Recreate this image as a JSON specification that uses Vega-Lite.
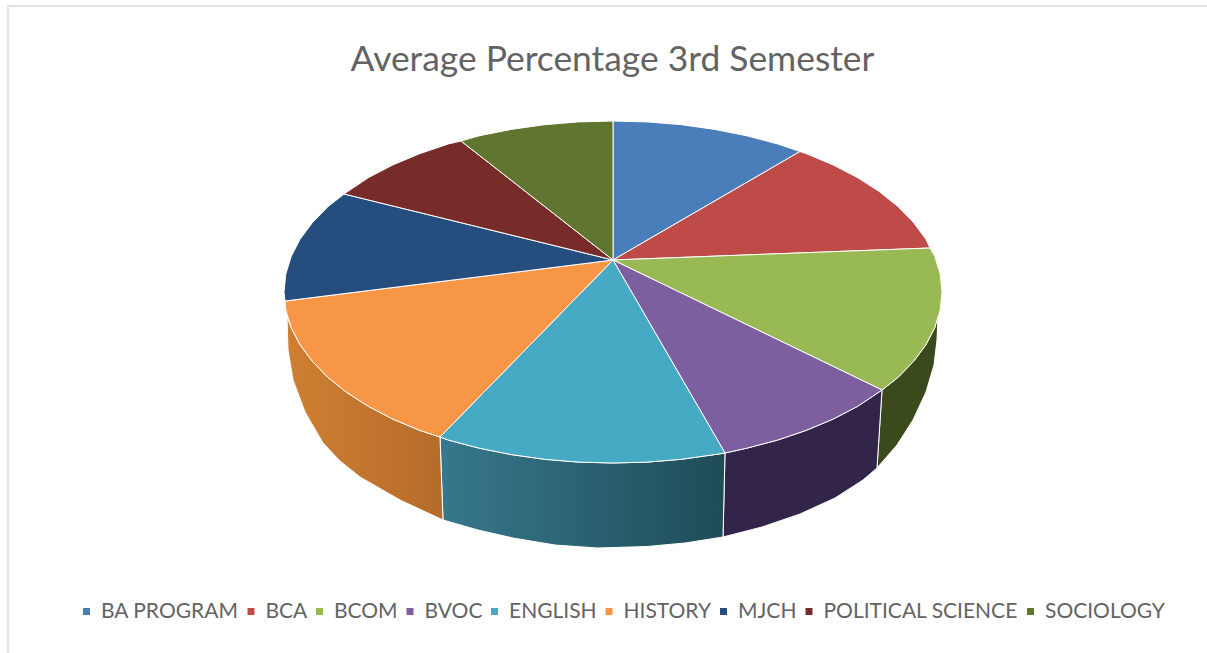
{
"$schema":"https://vega.github.io/schema/vega-lite/v6.json",
"width":1207,"height":653,"padding":0,"autosize":{"type":"none"},
"background":"white",
"view":{"stroke":null},
"title":{"text":"Average Percentage 3rd Semester","anchor":"middle","frame":"group","offset":0,"dy":106,"dx":9,"baseline":"alphabetic","font":"Lato","fontSize":35.4,"fontWeight":"normal","color":"#636363"},
"datasets":{
"frame":[{"x":8,"x2":1220,"y":6,"y2":670}],
"walls":[
{"slice":"BCOM","i":0,"x":938,"y":315},{"slice":"BCOM","i":1,"x":934.8,"y":327.6},{"slice":"BCOM","i":2,"x":925.9,"y":344.8},{"slice":"BCOM","i":3,"x":913.5,"y":361.5},{"slice":"BCOM","i":4,"x":897.9,"y":377.5},{"slice":"BCOM","i":5,"x":882,"y":390},{"slice":"BCOM","i":6,"x":877,"y":468},{"slice":"BCOM","i":7,"x":897,"y":445},{"slice":"BCOM","i":8,"x":913,"y":420},{"slice":"BCOM","i":9,"x":926,"y":392},{"slice":"BCOM","i":10,"x":934,"y":365},{"slice":"BCOM","i":11,"x":937,"y":340},{"slice":"BCOM","i":12,"x":938,"y":315},
{"slice":"BVOC","i":0,"x":882,"y":390},{"slice":"BVOC","i":1,"x":857.5,"y":406.4},{"slice":"BVOC","i":2,"x":833.1,"y":419.1},{"slice":"BVOC","i":3,"x":806.4,"y":430.3},{"slice":"BVOC","i":4,"x":777.5,"y":440.1},{"slice":"BVOC","i":5,"x":746.8,"y":448.2},{"slice":"BVOC","i":6,"x":725,"y":453},{"slice":"BVOC","i":7,"x":723,"y":537},{"slice":"BVOC","i":8,"x":762,"y":527},{"slice":"BVOC","i":9,"x":800,"y":514},{"slice":"BVOC","i":10,"x":835,"y":498},{"slice":"BVOC","i":11,"x":863,"y":480},{"slice":"BVOC","i":12,"x":877,"y":468},{"slice":"BVOC","i":13,"x":882,"y":390},
{"slice":"ENGLISH","i":0,"x":725,"y":453},{"slice":"ENGLISH","i":1,"x":714.7,"y":454.6},{"slice":"ENGLISH","i":2,"x":681.4,"y":459.3},{"slice":"ENGLISH","i":3,"x":647.4,"y":462.1},{"slice":"ENGLISH","i":4,"x":613,"y":463},{"slice":"ENGLISH","i":5,"x":578.6,"y":462.1},{"slice":"ENGLISH","i":6,"x":544.6,"y":459.3},{"slice":"ENGLISH","i":7,"x":511.3,"y":454.6},{"slice":"ENGLISH","i":8,"x":479.2,"y":448.2},{"slice":"ENGLISH","i":9,"x":448.5,"y":440.1},{"slice":"ENGLISH","i":10,"x":440,"y":437},{"slice":"ENGLISH","i":11,"x":443,"y":520},{"slice":"ENGLISH","i":12,"x":478,"y":530},{"slice":"ENGLISH","i":13,"x":513,"y":538},{"slice":"ENGLISH","i":14,"x":555,"y":545},{"slice":"ENGLISH","i":15,"x":597,"y":548},{"slice":"ENGLISH","i":16,"x":647,"y":546.5},{"slice":"ENGLISH","i":17,"x":685,"y":543},{"slice":"ENGLISH","i":18,"x":723,"y":537},{"slice":"ENGLISH","i":19,"x":725,"y":453},
{"slice":"HISTORY","i":0,"x":440,"y":437},{"slice":"HISTORY","i":1,"x":419.6,"y":430.3},{"slice":"HISTORY","i":2,"x":392.9,"y":419.1},{"slice":"HISTORY","i":3,"x":368.5,"y":406.4},{"slice":"HISTORY","i":4,"x":346.8,"y":392.5},{"slice":"HISTORY","i":5,"x":328.1,"y":377.5},{"slice":"HISTORY","i":6,"x":312.5,"y":361.5},{"slice":"HISTORY","i":7,"x":300.1,"y":344.8},{"slice":"HISTORY","i":8,"x":291.2,"y":327.6},{"slice":"HISTORY","i":9,"x":287,"y":317},{"slice":"HISTORY","i":10,"x":288,"y":350},{"slice":"HISTORY","i":11,"x":293,"y":380},{"slice":"HISTORY","i":12,"x":305,"y":412},{"slice":"HISTORY","i":13,"x":323,"y":443},{"slice":"HISTORY","i":14,"x":340,"y":461},{"slice":"HISTORY","i":15,"x":360,"y":477},{"slice":"HISTORY","i":16,"x":400,"y":500},{"slice":"HISTORY","i":17,"x":443,"y":520},{"slice":"HISTORY","i":18,"x":440,"y":437}
],
"top":[
{"slice":"BA PROGRAM","i":0,"x":613,"y":260},{"slice":"BA PROGRAM","i":1,"x":613,"y":121},{"slice":"BA PROGRAM","i":2,"x":647.4,"y":121.9},{"slice":"BA PROGRAM","i":3,"x":681.4,"y":124.7},{"slice":"BA PROGRAM","i":4,"x":714.7,"y":129.4},{"slice":"BA PROGRAM","i":5,"x":746.8,"y":135.8},{"slice":"BA PROGRAM","i":6,"x":777.5,"y":143.9},{"slice":"BA PROGRAM","i":7,"x":800,"y":151.5},{"slice":"BA PROGRAM","i":8,"x":613,"y":260},
{"slice":"BCA","i":0,"x":613,"y":260},{"slice":"BCA","i":1,"x":800,"y":151.5},{"slice":"BCA","i":2,"x":806.4,"y":153.7},{"slice":"BCA","i":3,"x":833.1,"y":164.9},{"slice":"BCA","i":4,"x":857.5,"y":177.6},{"slice":"BCA","i":5,"x":879.2,"y":191.5},{"slice":"BCA","i":6,"x":897.9,"y":206.5},{"slice":"BCA","i":7,"x":913.5,"y":222.5},{"slice":"BCA","i":8,"x":925.9,"y":239.2},{"slice":"BCA","i":9,"x":930,"y":248},{"slice":"BCA","i":10,"x":613,"y":260},
{"slice":"BCOM","i":0,"x":613,"y":260},{"slice":"BCOM","i":1,"x":930,"y":248},{"slice":"BCOM","i":2,"x":934.8,"y":256.4},{"slice":"BCOM","i":3,"x":940.2,"y":274.1},{"slice":"BCOM","i":4,"x":942,"y":292},{"slice":"BCOM","i":5,"x":940.2,"y":309.9},{"slice":"BCOM","i":6,"x":934.8,"y":327.6},{"slice":"BCOM","i":7,"x":925.9,"y":344.8},{"slice":"BCOM","i":8,"x":913.5,"y":361.5},{"slice":"BCOM","i":9,"x":897.9,"y":377.5},{"slice":"BCOM","i":10,"x":882,"y":390},{"slice":"BCOM","i":11,"x":613,"y":260},
{"slice":"BVOC","i":0,"x":613,"y":260},{"slice":"BVOC","i":1,"x":882,"y":390},{"slice":"BVOC","i":2,"x":857.5,"y":406.4},{"slice":"BVOC","i":3,"x":833.1,"y":419.1},{"slice":"BVOC","i":4,"x":806.4,"y":430.3},{"slice":"BVOC","i":5,"x":777.5,"y":440.1},{"slice":"BVOC","i":6,"x":746.8,"y":448.2},{"slice":"BVOC","i":7,"x":725,"y":453},{"slice":"BVOC","i":8,"x":613,"y":260},
{"slice":"ENGLISH","i":0,"x":613,"y":260},{"slice":"ENGLISH","i":1,"x":725,"y":453},{"slice":"ENGLISH","i":2,"x":714.7,"y":454.6},{"slice":"ENGLISH","i":3,"x":681.4,"y":459.3},{"slice":"ENGLISH","i":4,"x":647.4,"y":462.1},{"slice":"ENGLISH","i":5,"x":613,"y":463},{"slice":"ENGLISH","i":6,"x":578.6,"y":462.1},{"slice":"ENGLISH","i":7,"x":544.6,"y":459.3},{"slice":"ENGLISH","i":8,"x":511.3,"y":454.6},{"slice":"ENGLISH","i":9,"x":479.2,"y":448.2},{"slice":"ENGLISH","i":10,"x":448.5,"y":440.1},{"slice":"ENGLISH","i":11,"x":440,"y":437},{"slice":"ENGLISH","i":12,"x":613,"y":260},
{"slice":"HISTORY","i":0,"x":613,"y":260},{"slice":"HISTORY","i":1,"x":440,"y":437},{"slice":"HISTORY","i":2,"x":419.6,"y":430.3},{"slice":"HISTORY","i":3,"x":392.9,"y":419.1},{"slice":"HISTORY","i":4,"x":368.5,"y":406.4},{"slice":"HISTORY","i":5,"x":346.8,"y":392.5},{"slice":"HISTORY","i":6,"x":328.1,"y":377.5},{"slice":"HISTORY","i":7,"x":312.5,"y":361.5},{"slice":"HISTORY","i":8,"x":300.1,"y":344.8},{"slice":"HISTORY","i":9,"x":291.2,"y":327.6},{"slice":"HISTORY","i":10,"x":285.8,"y":309.9},{"slice":"HISTORY","i":11,"x":285,"y":301},{"slice":"HISTORY","i":12,"x":613,"y":260},
{"slice":"MJCH","i":0,"x":613,"y":260},{"slice":"MJCH","i":1,"x":285,"y":301},{"slice":"MJCH","i":2,"x":284,"y":292},{"slice":"MJCH","i":3,"x":285.8,"y":274.1},{"slice":"MJCH","i":4,"x":291.2,"y":256.4},{"slice":"MJCH","i":5,"x":300.1,"y":239.2},{"slice":"MJCH","i":6,"x":312.5,"y":222.5},{"slice":"MJCH","i":7,"x":328.1,"y":206.5},{"slice":"MJCH","i":8,"x":344,"y":194},{"slice":"MJCH","i":9,"x":613,"y":260},
{"slice":"POLITICAL SCIENCE","i":0,"x":613,"y":260},{"slice":"POLITICAL SCIENCE","i":1,"x":344,"y":194},{"slice":"POLITICAL SCIENCE","i":2,"x":368.5,"y":177.6},{"slice":"POLITICAL SCIENCE","i":3,"x":392.9,"y":164.9},{"slice":"POLITICAL SCIENCE","i":4,"x":419.6,"y":153.7},{"slice":"POLITICAL SCIENCE","i":5,"x":448.5,"y":143.9},{"slice":"POLITICAL SCIENCE","i":6,"x":461,"y":141},{"slice":"POLITICAL SCIENCE","i":7,"x":613,"y":260},
{"slice":"SOCIOLOGY","i":0,"x":613,"y":260},{"slice":"SOCIOLOGY","i":1,"x":461,"y":141},{"slice":"SOCIOLOGY","i":2,"x":479.2,"y":135.8},{"slice":"SOCIOLOGY","i":3,"x":511.3,"y":129.4},{"slice":"SOCIOLOGY","i":4,"x":544.6,"y":124.7},{"slice":"SOCIOLOGY","i":5,"x":578.6,"y":121.9},{"slice":"SOCIOLOGY","i":6,"x":613,"y":121},{"slice":"SOCIOLOGY","i":7,"x":613,"y":260}
]},
"encoding":{"x":{"field":"x","type":"quantitative","scale":{"domain":[0,1207],"nice":false,"zero":false},"axis":null},"y":{"field":"y","type":"quantitative","scale":{"domain":[0,653],"reverse":true,"nice":false,"zero":false},"axis":null}},
"layer":[
{"data":{"name":"frame"},"mark":{"type":"rect","fill":null,"stroke":"#E4E4DE","strokeWidth":2},
 "encoding":{"x2":{"field":"x2"},"y2":{"field":"y2"}}},
{"data":{"name":"walls"},"transform":[{"filter":"datum.slice==='BCOM'||datum.slice==='BVOC'"}],"mark":{"type":"line","filled":true,"stroke":"white","strokeWidth":1},
 "encoding":{"order":{"field":"i","type":"quantitative"},"detail":{"field":"slice"},
 "fill":{"field":"slice","type":"nominal","legend":null,"scale":{"domain":["BCOM","BVOC"],"range":["#3A4A1C","#33254A"]}}}},
{"data":{"name":"walls"},"transform":[{"filter":"datum.slice==='ENGLISH'"}],"mark":{"type":"line","filled":true,"stroke":"white","strokeWidth":1,"fill":{"gradient":"linear","x1":0,"y1":0,"x2":1,"y2":0,"stops":[{"offset":0,"color":"#37788C"},{"offset":1,"color":"#1F4C58"}]}},
 "encoding":{"order":{"field":"i","type":"quantitative"}}},
{"data":{"name":"walls"},"transform":[{"filter":"datum.slice==='HISTORY'"}],"mark":{"type":"line","filled":true,"stroke":"white","strokeWidth":1,"fill":{"gradient":"linear","x1":0,"y1":0,"x2":1,"y2":0,"stops":[{"offset":0,"color":"#CF7F32"},{"offset":1,"color":"#B56C2A"}]}},
 "encoding":{"order":{"field":"i","type":"quantitative"}}},
{"data":{"name":"top"},"mark":{"type":"line","filled":true,"stroke":"white","strokeWidth":1},
 "encoding":{"order":{"field":"i","type":"quantitative"},"detail":{"field":"slice"},
 "color":{"field":"slice","type":"nominal","sort":null,"scale":{"domain":["BA PROGRAM","BCA","BCOM","BVOC","ENGLISH","HISTORY","MJCH","POLITICAL SCIENCE","SOCIOLOGY"],"range":["#4A7EBB","#BE4B48","#98B954","#7D5FA0","#46AAC4","#F79646","#254D7D","#772C2A","#5F7530"]},
 "legend":{"title":null,"orient":"none","legendX":76,"legendY":601,"direction":"horizontal","columns":9,"gridAlign":"none","symbolType":"square","symbolSize":49,"symbolStrokeWidth":0,"labelFont":"Lato","labelFontSize":21,"labelColor":"#636363","labelOffset":4,"columnPadding":1.5,"labelLimit":300}}}}
],
"resolve":{"scale":{"fill":"independent","color":"independent"}}
}
